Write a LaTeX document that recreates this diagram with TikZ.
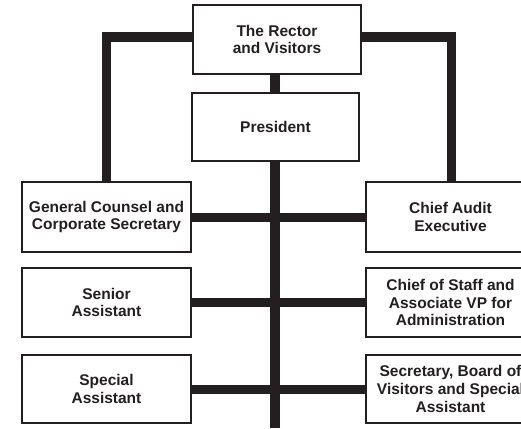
\documentclass[tikz,border=0pt]{standalone}
\usepackage{fontspec}
\setmainfont{Liberation Sans}
\definecolor{ink}{HTML}{231F20}
\begin{document}
\begin{tikzpicture}[x=1pt,y=-1pt,
  box/.style={draw=ink, line width=2.5pt, fill=white, inner sep=0pt, align=center,
    minimum width=169pt, minimum height=69pt, text=ink,
    font=\fontsize{15.5}{17.7}\selectfont\bfseries},
  conn/.style={draw=ink, line width=9.5pt, line join=miter}]
\useasboundingbox (0,0) rectangle (521,428);
\clip (0,0) rectangle (521,428);
\coordinate (spine) at (275,428);
% connectors
\draw[conn] (193,37) -| (106.5,182);
\draw[conn] (361,37) -| (451.5,182);
\draw[conn] (275,74) -- (275,93);
\draw[conn] (275,161) -- (spine);
\draw[conn] (191,217.5) -- (366,217.5);
\draw[conn] (191,302.5) -- (366,302.5);
\draw[conn] (191,389.5) -- (366,389.5);
% boxes
\node[box, minimum width=168pt] (rector) at (277,39.5) {The Rector\\and Visitors};
\node[box, minimum width=167pt, minimum height=68pt] (president) at (275.5,127) {President};
\node[box, minimum height=70pt] (gc) at (106.5,217) {General Counsel and\\Corporate Secretary};
\node[box, minimum height=70pt] (cae) at (450.5,217) {Chief Audit\\Executive};
\node[box] (senior) at (106.5,302.5) {Senior\\Assistant};
\node[box] (cos) at (450.5,302.5) {Chief of Staff and\\Associate VP for\\Administration};
\node[box, minimum height=68pt] (special) at (106.5,389) {Special\\Assistant};
\node[box, minimum height=68pt] (sec) at (450.5,389) {Secretary, Board of\\Visitors and Special\\Assistant};
\end{tikzpicture}
\end{document}
